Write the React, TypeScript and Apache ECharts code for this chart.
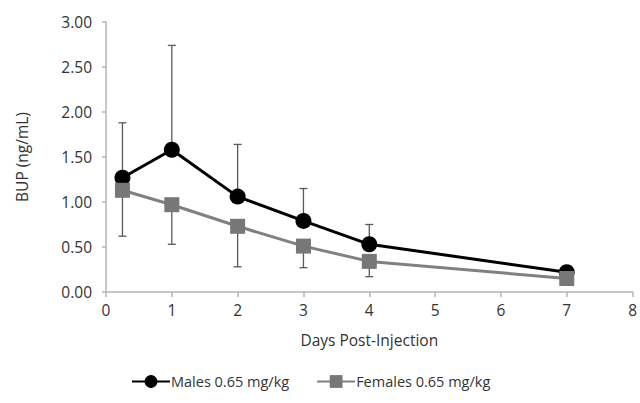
import React, { useEffect, useRef } from "react";
import * as echarts from "echarts";

const days = [0.25, 1, 2, 3, 4, 7];
const malesMean = [1.27, 1.58, 1.06, 0.79, 0.53, 0.22];
const malesUpper = [1.88, 2.74, 1.64, 1.15, 0.75, null];
const femalesMean = [1.13, 0.97, 0.73, 0.51, 0.34, 0.15];
const femalesLower = [0.62, 0.53, 0.28, 0.27, 0.17, null];
const seriesNames = ["Males 0.65 mg/kg", "Females 0.65 mg/kg"];
const xAxisTitle = "Days Post-Injection";
const yAxisTitle = "BUP (ng/mL)";

const FONT = "'Open Sans', sans-serif";
const TEXT = "#333333";
const AXIS = "#b5b5b5";
const FS = 15.5;

function errData(mean: number[], ends: (number | null)[]) {
  const out: number[][] = [];
  days.forEach((d, i) => {
    const e = ends[i];
    if (e !== null && e !== undefined) out.push([d, mean[i], e]);
  });
  return out;
}

function renderErr(params: any, api: any) {
  const x = api.value(0);
  const p0 = api.coord([x, api.value(1)]);
  const p1 = api.coord([x, api.value(2)]);
  const cap = 4;
  const style = { stroke: "#595959", lineWidth: 1.3, fill: "none" };
  return {
    type: "group",
    children: [
      { type: "line", shape: { x1: p0[0], y1: p0[1], x2: p1[0], y2: p1[1] }, style },
      { type: "line", shape: { x1: p1[0] - cap, y1: p1[1], x2: p1[0] + cap, y2: p1[1] }, style },
    ],
  };
}

export default function App() {
  const ref = useRef<HTMLDivElement>(null);
  useEffect(() => {
    if (!ref.current) return;
    const chart = echarts.init(ref.current, undefined, { renderer: "svg" });
    chart.setOption({
      animation: false,
      backgroundColor: "#ffffff",
      textStyle: { fontFamily: FONT, color: TEXT },
      grid: { left: 106, right: 3, top: 22, bottom: 111, containLabel: false },
      legend: {
        left: 131,
        top: 374,
        padding: 0,
        itemWidth: 38,
        itemHeight: 16,
        itemGap: 27,
        textStyle: { fontFamily: FONT, fontSize: 14.5, color: TEXT, padding: [0, 0, 0, -4] },
        data: seriesNames,
      },
      xAxis: {
        type: "value",
        min: 0,
        max: 8,
        interval: 1,
        name: xAxisTitle,
        nameLocation: "middle",
        nameGap: 40,
        nameTextStyle: { fontFamily: FONT, fontSize: FS, color: TEXT },
        axisLine: { show: true, lineStyle: { color: AXIS, width: 1.5 } },
        axisTick: { show: true, length: 5, lineStyle: { color: AXIS, width: 1.5 } },
        axisLabel: { fontFamily: FONT, fontSize: FS, color: TEXT, margin: 10 },
        splitLine: { show: false },
      },
      yAxis: {
        type: "value",
        min: 0,
        max: 3,
        interval: 0.5,
        name: yAxisTitle,
        nameLocation: "middle",
        nameGap: 76,
        nameTextStyle: { fontFamily: FONT, fontSize: FS, color: TEXT },
        axisLine: { show: true, lineStyle: { color: AXIS, width: 1.5 } },
        axisTick: { show: true, length: 4, lineStyle: { color: AXIS, width: 1.5 } },
        axisLabel: {
          fontFamily: FONT,
          fontSize: FS,
          color: TEXT,
          margin: 14,
          formatter: (v: number) => v.toFixed(2),
        },
        splitLine: { show: false },
      },
      series: [
        {
          type: "custom",
          name: "maleErr",
          renderItem: renderErr,
          data: errData(malesMean, malesUpper),
          encode: { x: 0, y: [1, 2] },
          z: 1,
          silent: true,
        },
        {
          type: "custom",
          name: "femaleErr",
          renderItem: renderErr,
          data: errData(femalesMean, femalesLower),
          encode: { x: 0, y: [1, 2] },
          z: 1,
          silent: true,
        },
        {
          type: "line",
          name: seriesNames[0],
          data: days.map((d, i) => [d, malesMean[i]]),
          symbol: "circle",
          symbolSize: 16,
          itemStyle: { color: "#000000" },
          lineStyle: { color: "#000000", width: 3 },
          z: 3,
        },
        {
          type: "line",
          name: seriesNames[1],
          data: days.map((d, i) => [d, femalesMean[i]]),
          symbol: "rect",
          symbolSize: 15,
          itemStyle: { color: "#777777" },
          lineStyle: { color: "#808080", width: 3 },
          z: 4,
        },
      ],
    });
    return () => chart.dispose();
  }, []);
  return (
    <div
      ref={ref}
      style={{ position: "absolute", left: 0, top: 0, width: 640, height: 403 }}
    />
  );
}
